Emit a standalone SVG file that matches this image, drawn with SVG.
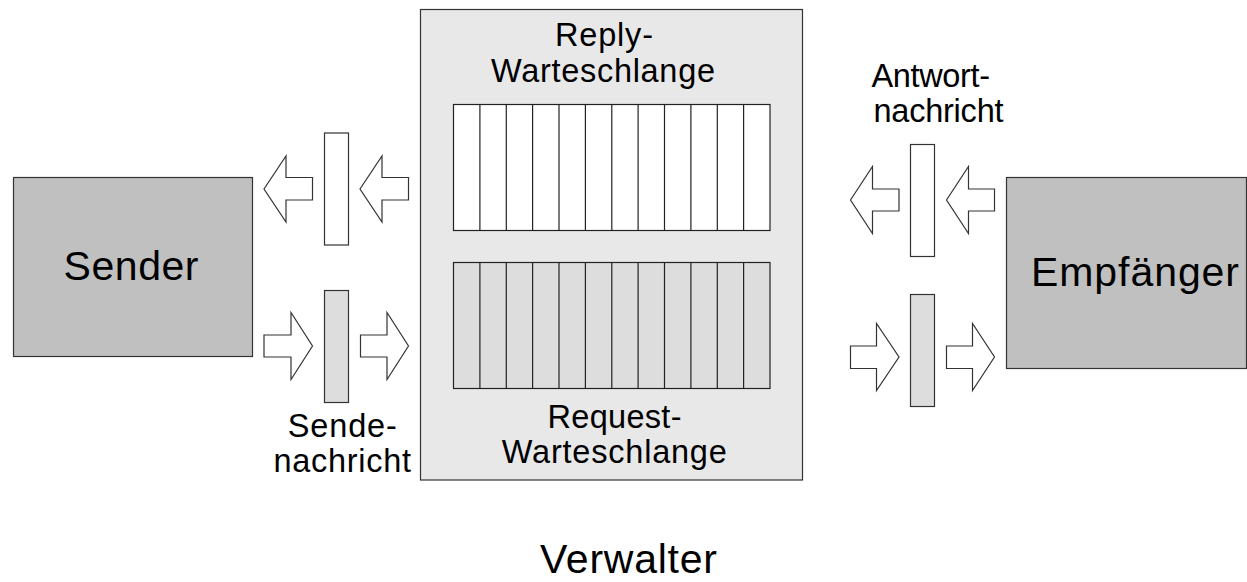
<svg xmlns="http://www.w3.org/2000/svg" width="1247" height="582" viewBox="0 0 1247 582">
<style>
text{font-family:"Liberation Sans",Arial,sans-serif;fill:#000}
.box{stroke:#333;stroke-width:1.2}
.big{font-size:41px}
.mid{font-size:32.5px}
.arr{fill:#fff;stroke:#333;stroke-width:1.2}
.cell{stroke:#222;stroke-width:1.2}
</style>
<rect width="1247" height="582" fill="#fff"/>
<g id="verwalter">
<rect class="box" x="420.5" y="9.5" width="382" height="470.5" fill="#e8e8e8"/>
<text class="mid" x="555" y="45.7" textLength="98">Reply-</text>
<text class="mid" x="491" y="81.7" textLength="224">Warteschlange</text>
<text class="mid" x="547.5" y="428.3" textLength="134">Request-</text>
<text class="mid" x="501.8" y="462.7" textLength="225">Warteschlange</text>
<text class="big" x="540" y="573.3" textLength="177">Verwalter</text>
</g>
<g id="reply-queue">
<rect class="cell" x="453.5" y="104.5" width="316.5" height="126" fill="#fff"/>
<path class="cell" fill="none" d="M479.9 104.5V230.5M506.3 104.5V230.5M532.6 104.5V230.5M559 104.5V230.5M585.4 104.5V230.5M611.8 104.5V230.5M638.1 104.5V230.5M664.5 104.5V230.5M690.9 104.5V230.5M717.3 104.5V230.5M743.6 104.5V230.5"/>
</g>
<g id="request-queue">
<rect class="cell" x="453.5" y="262.5" width="316.5" height="126" fill="#ddd"/>
<path class="cell" fill="none" d="M479.9 262.5V388.5M506.3 262.5V388.5M532.6 262.5V388.5M559 262.5V388.5M585.4 262.5V388.5M611.8 262.5V388.5M638.1 262.5V388.5M664.5 262.5V388.5M690.9 262.5V388.5M717.3 262.5V388.5M743.6 262.5V388.5"/>
</g>
<g id="sender">
<rect class="box" x="13.5" y="177.5" width="239" height="179" fill="#c0c0c0"/>
<text class="big" x="63.5" y="280" textLength="135">Sender</text>
</g>
<g id="empfaenger">
<rect class="box" x="1006.5" y="177.5" width="240" height="191" fill="#c0c0c0"/>
<text class="big" x="1031" y="286" textLength="208">Empfänger</text>
</g>
<g id="sendenachricht">
<rect class="box" x="324.5" y="290.5" width="24" height="112" fill="#ddd"/>
<text class="mid" x="287.8" y="436.7" textLength="109">Sende-</text>
<text class="mid" x="273.5" y="471.7" textLength="137.5">nachricht</text>
</g>
<g id="antwortnachricht">
<rect class="box" x="910.5" y="144.5" width="24" height="112" fill="#fff"/>
<text class="mid" x="871.5" y="86.7" textLength="118.5">Antwort-</text>
<text class="mid" x="873.5" y="121.7" textLength="130">nachricht</text>
</g>
<g id="reply-message">
<rect class="box" x="324.5" y="133" width="24" height="112" fill="#fff"/>
</g>
<g id="request-message">
<rect class="box" x="910.5" y="294.5" width="24" height="112" fill="#ddd"/>
</g>
<g id="connectors">
<polygon class="arr" points="264,189 286,156 286,177.5 312.5,177.5 312.5,200 286,200 286,222"/>
<polygon class="arr" points="360,189 382,156 382,177.5 408.5,177.5 408.5,200 382,200 382,222"/>
<polygon class="arr" points="850.5,200 872.5,166.5 872.5,189 899,189 899,211 872.5,211 872.5,233.5"/>
<polygon class="arr" points="946.5,200 968.5,166.5 968.5,189 994.5,189 994.5,211 968.5,211 968.5,233.5"/>
<polygon class="arr" points="264,335 291,335 291,312.5 312.5,346 291,379.5 291,357 264,357"/>
<polygon class="arr" points="360.5,335 387,335 387,312.5 408.5,346 387,379.5 387,357 360.5,357"/>
<polygon class="arr" points="850.5,346 876.5,346 876.5,323.5 899,357 876.5,390.5 876.5,368.5 850.5,368.5"/>
<polygon class="arr" points="946.5,346 972.5,346 972.5,323.5 994.5,357 972.5,390.5 972.5,368.5 946.5,368.5"/>
</g>
</svg>
